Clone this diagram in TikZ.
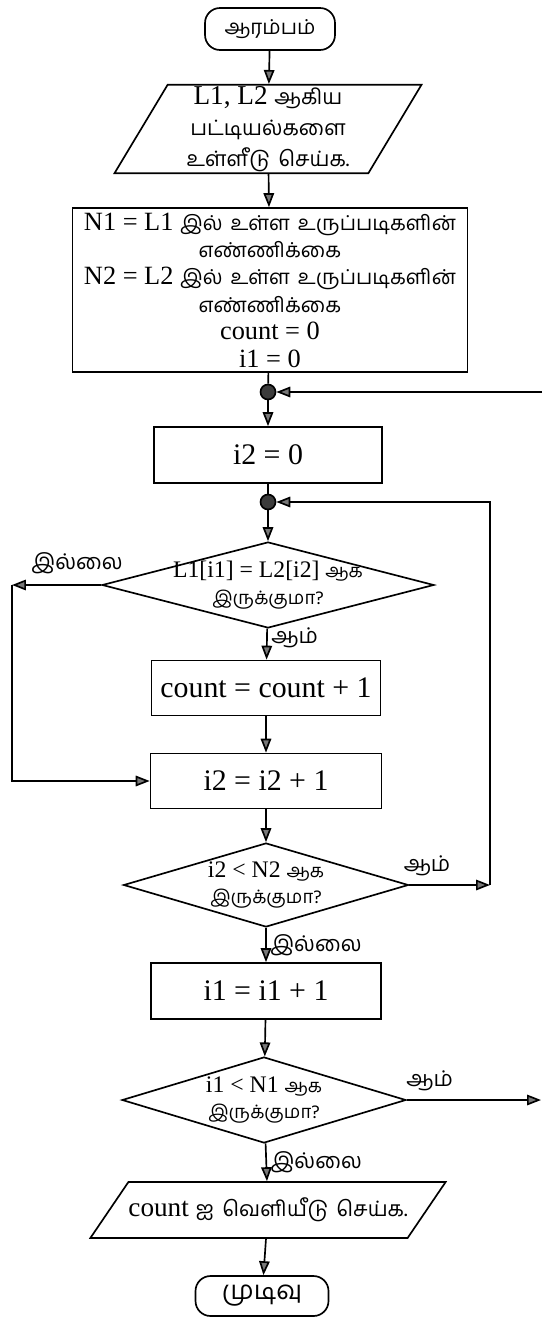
\documentclass[tikz,border=0pt]{standalone}
\usepackage{fontspec}
\setmainfont{Liberation Serif}
\newfontfamily\tamilfont[Script=Tamil,Scale=0.78,WordSpace=1.6]{Hind Madurai}
\newcommand{\ta}[1]{{\tamilfont #1}}
\usepackage{tikz}
\usetikzlibrary{arrows.meta, positioning, shapes.geometric}
\definecolor{tipgray}{RGB}{120,120,120}
\definecolor{dotgray}{RGB}{60,60,60}

\begin{document}
\begin{tikzpicture}[x=0.02cm, y=-0.02cm,
    font=\fontsize{17}{18}\selectfont,
    line width=0.95pt,
    arr/.style={-{Triangle[length=0.28cm, width=0.21cm, fill=tipgray]}},
    terminal/.style={draw, rounded corners=0.3cm, minimum width=2.6cm, minimum height=0.84cm},
    procbox/.style={draw, minimum width=4.6cm, minimum height=1.1cm, align=center},
    iobox/.style={draw, trapezium, trapezium stretches body, align=center, inner sep=1pt},
    decision/.style={draw, diamond, aspect=3.8, inner xsep=-12pt, inner ysep=-10pt,
                     align=center, font=\fontsize{13.5}{15}\selectfont},
    joint/.style={circle, draw, fill=dotgray, minimum size=0.3cm, inner sep=0pt},
    lbl/.style={inner sep=2pt, font=\fontsize{15.8}{17}\selectfont}]
  \useasboundingbox (0,0) rectangle (542,1317);

  % main column
  \node[terminal, font=\fontsize{15}{16}\selectfont] (start) at (270,29) {\ta{ஆரம்பம்}};
  \node[iobox, trapezium left angle=59, trapezium right angle=121,
        minimum width=6.14cm, minimum height=1.68cm,
        font=\fontsize{15.5}{17.5}\selectfont] (input) at (268,129)
    {L1, L2 \ta{ஆகிய}\\ \ta{பட்டியல்களை}\\ \ta{உள்ளீடு செய்க.}};
  \node[draw, minimum width=7.9cm, minimum height=3.28cm, align=center, inner sep=1pt,
        font=\fontsize{15}{15.6}\selectfont] (init) at (270,290)
    {N1 = L1 \ta{இல் உள்ள உருப்படிகளின்}\\ \ta{எண்ணிக்கை}\\
     N2 = L2 \ta{இல் உள்ள உருப்படிகளின்}\\ \ta{எண்ணிக்கை}\\
     count = 0\\ i1 = 0};
  \node[joint] (dotA) at (268,392) {};
  \node[procbox, minimum width=4.56cm, minimum height=1.12cm] (setitwo) at (268,455) {i2 = 0};
  \node[joint] (dotB) at (268,502) {};
  \node[decision, minimum width=6.64cm, minimum height=1.72cm] (cmpA) at (268,585)
    {L1[i1] = L2[i2] \ta{ஆக}\\ \ta{இருக்குமா?}};
  \node[procbox, minimum width=4.58cm] (incount) at (266,688) {count = count + 1};
  \node[procbox, minimum width=4.62cm] (inctwo) at (266,781) {i2 = i2 + 1};
  \node[decision, minimum width=5.7cm, minimum height=1.68cm] (cmpB) at (266,885)
    {i2 < N2 \ta{ஆக}\\ \ta{இருக்குமா?}};
  \node[procbox, minimum height=1.12cm] (incone) at (266,991) {i1 = i1 + 1};
  \node[decision, minimum width=5.68cm, minimum height=1.72cm] (cmpC) at (264,1100)
    {i1 < N1 \ta{ஆக}\\ \ta{இருக்குமா?}};
  \node[iobox, trapezium left angle=51, trapezium right angle=129,
        inner ysep=6.5pt, inner xsep=0pt, minimum width=6.92cm, minimum height=1.12cm,
        font=\fontsize{15.5}{17}\selectfont] (output) at (268,1210)
    {count \ta{ஐ வெளியீடு செய்க.}};
  \node[terminal, minimum width=2.66cm, minimum height=0.8cm,
        font=\fontsize{19}{20}\selectfont] (stop) at (262,1296) {\ta{முடிவு}};

  % loop corners
  \coordinate (lpA) at (12,585);
  \coordinate (lpB) at (12,781);
  \coordinate (rpA) at (490,885);
  \coordinate (rpB) at (490,502);
  \coordinate (outR) at (541,1100);
  \coordinate (inR) at (542,392);

  % straight flow
  \draw[arr] (start) -- (input);
  \draw[arr] (input) -- (init);
  \draw (init) -- (dotA);
  \draw[arr] (dotA) -- (setitwo);
  \draw (setitwo) -- (dotB);
  \draw[arr] (dotB) -- (cmpA);
  \draw[arr] (cmpA) -- node[lbl, right, pos=0.3] {\ta{ஆம்}} (incount);
  \draw[arr] (incount) -- (inctwo);
  \draw[arr] (inctwo) -- (cmpB);
  \draw[arr] (cmpB) -- node[lbl, right] {\ta{இல்லை}} (incone);
  \draw[arr] (incone) -- (cmpC);
  \draw[arr] (cmpC) -- node[lbl, right] {\ta{இல்லை}} (output);
  \draw[arr] (output) -- (stop);

  % loops
  \draw[arr] (cmpA.west) -- node[lbl, above=4pt, pos=0.27] {\ta{இல்லை}} (lpA);
  \draw[arr] (lpA) -- (lpB) -- (inctwo.west);
  \draw[arr] (cmpB.east) -- node[lbl, above=3pt, pos=0.22] {\ta{ஆம்}} (rpA);
  \draw[arr] (rpA) -- (rpB) -- (dotB);
  \draw[arr] (cmpC.east) -- node[lbl, above=3pt, pos=0.17] {\ta{ஆம்}} (outR);
  \draw[arr] (inR) -- (dotA);
\end{tikzpicture}
\end{document}
